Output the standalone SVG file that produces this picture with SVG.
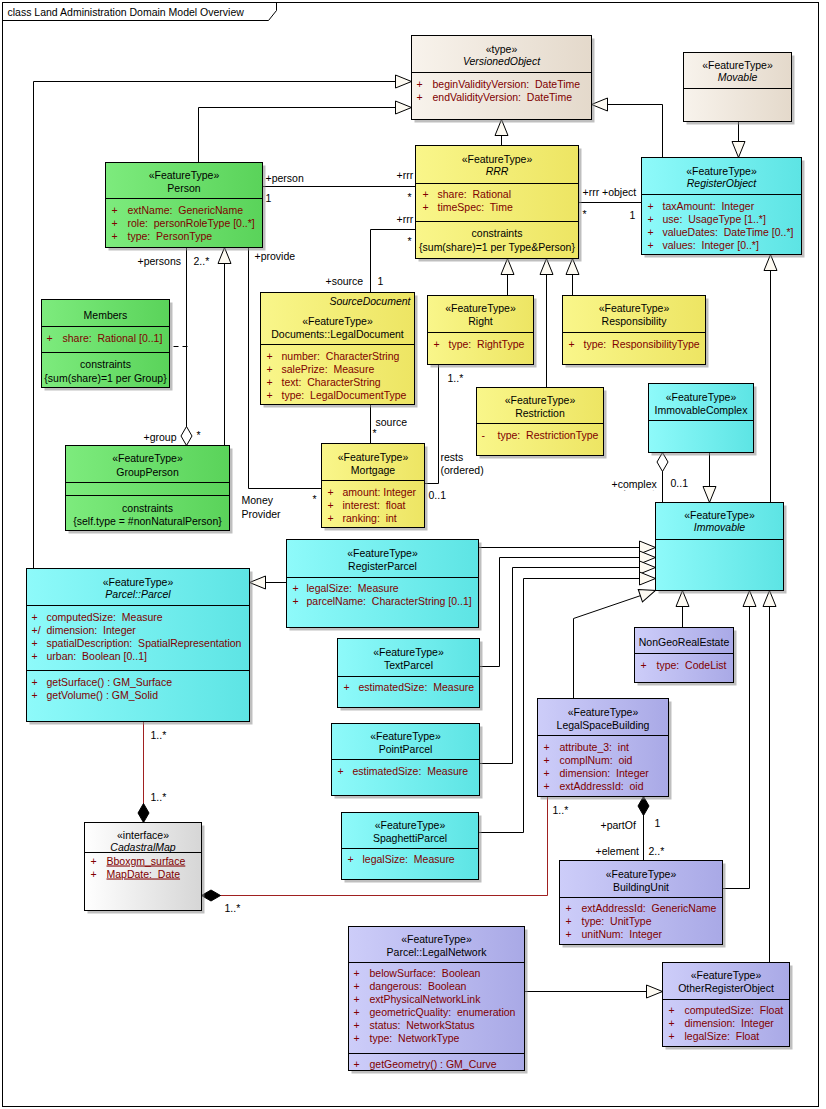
<svg xmlns="http://www.w3.org/2000/svg" width="826" height="1109" viewBox="0 0 826 1109" xml:space="preserve">
<style>
text{font-family:"Liberation Sans",Arial,sans-serif;font-size:10.5px;fill:#000;white-space:pre}
.c{text-anchor:middle}
.e{text-anchor:end}
.i{font-style:italic}
.a{fill:#800000}
.u{text-decoration:underline}
.sh{fill:#8a8a8a;opacity:.55}
.bx{stroke:#000;stroke-width:1}
.dv{stroke:#000;stroke-width:1}
.cn path{fill:none;stroke:#000;stroke-width:1}
.cn path.red{stroke:#A02020}
.cn path.dash{stroke-dasharray:5,4;stroke-dashoffset:5}
</style>
<defs>
<linearGradient id="gGreen" x1="0" y1="0" x2="1" y2="0"><stop offset="0" stop-color="#7DEB7D"/><stop offset="1" stop-color="#5AD35A"/></linearGradient>
<linearGradient id="gYellow" x1="0" y1="0" x2="1" y2="0"><stop offset="0" stop-color="#F9F68A"/><stop offset="1" stop-color="#EDE563"/></linearGradient>
<linearGradient id="gCyan" x1="0" y1="0" x2="1" y2="0"><stop offset="0" stop-color="#8EFAFA"/><stop offset="1" stop-color="#5DE4E4"/></linearGradient>
<linearGradient id="gLav" x1="0" y1="0" x2="1" y2="0"><stop offset="0" stop-color="#CDCDF9"/><stop offset="1" stop-color="#A9A9E6"/></linearGradient>
<linearGradient id="gBeige" x1="0" y1="0" x2="1" y2="0"><stop offset="0" stop-color="#F8F3EC"/><stop offset="1" stop-color="#E4D9CB"/></linearGradient>
<linearGradient id="gWhite" x1="0" y1="0" x2="1" y2="0"><stop offset="0" stop-color="#FFFFFF"/><stop offset="1" stop-color="#D6D6D6"/></linearGradient>
<marker id="gen" markerWidth="18" markerHeight="15" refX="16" refY="6.5" orient="auto" markerUnits="userSpaceOnUse" overflow="visible"><path d="M0,0 L16,6.5 L0,13 z" fill="#FDFAF2" stroke="#000" stroke-width="1"/></marker>
<marker id="agg" markerWidth="20" markerHeight="12" refX="19" refY="5.5" orient="auto" markerUnits="userSpaceOnUse" overflow="visible"><path d="M0,5.5 L9.5,0 L19,5.5 L9.5,11 z" fill="#FFFFFF" stroke="#000" stroke-width="1"/></marker>
<marker id="comp" markerWidth="20" markerHeight="12" refX="19" refY="5.5" orient="auto" markerUnits="userSpaceOnUse" overflow="visible"><path d="M0,5.5 L9.5,0 L19,5.5 L9.5,11 z" fill="#000" stroke="#000" stroke-width="1"/></marker>
<clipPath id="clipEl"><rect x="600" y="478" width="90" height="12"/></clipPath>
</defs>
<rect x="0" y="0" width="826" height="1109" fill="#FFFFFF"/>
<g transform="translate(.5,.5)">
<g id="frame">
<rect x="2" y="2" width="816" height="1104" fill="none" stroke="#000"/>
<path d="M2,20 H268 L276,10 V2" fill="none" stroke="#000"/>
<text x="7" y="15">class Land Administration Domain Model Overview</text>
</g>

<g id="connectors" class="cn">
<path d="M33,568 V81 H411" marker-end="url(#gen)"/>
<path d="M198,162 V107 H411" marker-end="url(#gen)"/>
<path d="M501,145 V119" marker-end="url(#gen)"/>
<path d="M662,157 V104 H591" marker-end="url(#gen)"/>
<path d="M738,121 V157" marker-end="url(#gen)"/>
<path d="M507,295 V258" marker-end="url(#gen)"/>
<path d="M546,387 V258" marker-end="url(#gen)"/>
<path d="M572,295 V258" marker-end="url(#gen)"/>
<path d="M770,502 V254" marker-end="url(#gen)"/>
<path d="M709,452 V502" marker-end="url(#gen)"/>
<path d="M224,445 V247" marker-end="url(#gen)"/>
<path d="M286,582 H249" marker-end="url(#gen)"/>
<path d="M478,547 H655" marker-end="url(#gen)"/>
<path d="M479,666 H499 V557 H655" marker-end="url(#gen)"/>
<path d="M479,763 H512 V567 H655" marker-end="url(#gen)"/>
<path d="M478,832 H523 V578 H655" marker-end="url(#gen)"/>
<path d="M573,698 V618 L655,590" marker-end="url(#gen)"/>
<path d="M682,627 V590" marker-end="url(#gen)"/>
<path d="M722,888 H749 V590" marker-end="url(#gen)"/>
<path d="M769,962 V590" marker-end="url(#gen)"/>
<path d="M524,991 H662" marker-end="url(#gen)"/>
<path d="M262,186 H415"/>
<path d="M415,229 H370 V292"/>
<path d="M578,202 H641"/>
<path d="M370,404 V443"/>
<path d="M438,364 V483 H424"/>
<path d="M248,247 V488 H321"/>
<path d="M186,247 V445" marker-end="url(#agg)"/>
<path class="dash" d="M169,346 H187"/>
<path d="M662,502 V452" marker-end="url(#agg)"/>
<path d="M643,860 V796" marker-end="url(#comp)"/>
<path class="red" d="M143,721 V822" marker-end="url(#comp)"/>
<path class="red" d="M547,796 V895 H201" marker-end="url(#comp)"/>
</g>

<g id="labels">
<text x="265" y="181">+person</text>
<text x="265" y="201">1</text>
<text x="396" y="178">+rrr</text>
<text x="407" y="200">*</text>
<text x="396" y="222">+rrr</text>
<text x="407" y="244">*</text>
<text x="325" y="284">+source</text>
<text x="377" y="284">1</text>
<text x="582" y="195">+rrr +object</text>
<text x="582" y="217">*</text>
<text x="629" y="218">1</text>
<text x="137" y="264">+persons</text>
<text x="193" y="264">2..*</text>
<text x="254" y="259">+provide</text>
<text x="143" y="440">+group</text>
<text x="196" y="438">*</text>
<text x="375" y="425">source</text>
<text x="372" y="436">*</text>
<text x="241" y="503">Money</text>
<text x="241" y="517">Provider</text>
<text x="312" y="502">*</text>
<text x="447" y="381">1..*</text>
<text x="440" y="460">rests</text>
<text x="440" y="473">(ordered)</text>
<text x="428" y="498">0..1</text>
<text x="611" y="487">+complex</text>
<text x="611" y="497" clip-path="url(#clipEl)">+element</text>
<text x="670" y="486">0..1</text>
<text x="600" y="828">+partOf</text>
<text x="654" y="826">1</text>
<text x="595" y="854">+element</text>
<text x="648" y="854">2..*</text>
<text x="552" y="813">1..*</text>
<text x="150" y="738">1..*</text>
<text x="150" y="800">1..*</text>
<text x="224" y="911">1..*</text>
</g>

<g id="n-versionedobject">
<rect class="sh" x="414" y="38" width="180" height="84"/>
<rect class="bx" x="411" y="35" width="180" height="84" fill="url(#gBeige)"/>
<line class="dv" x1="411" y1="72" x2="591" y2="72"/>
<text class="c" x="501" y="52">«type»</text>
<text class="c i" x="501" y="64">VersionedObject</text>
<text class="a" x="416" y="87">+</text><text class="a" x="432" y="87">beginValidityVersion:  DateTime</text>
<text class="a" x="416" y="100">+</text><text class="a" x="432" y="100">endValidityVersion:  DateTime</text>
</g>

<g id="n-movable">
<rect class="sh" x="686" y="55" width="108" height="69"/>
<rect class="bx" x="683" y="52" width="108" height="69" fill="url(#gBeige)"/>
<line class="dv" x1="683" y1="88" x2="791" y2="88"/>
<text class="c" x="737" y="68">«FeatureType»</text>
<text class="c i" x="737" y="80">Movable</text>
</g>

<g id="n-rrr">
<rect class="sh" x="418" y="148" width="163" height="113"/>
<rect class="bx" x="415" y="145" width="163" height="113" fill="url(#gYellow)"/>
<line class="dv" x1="415" y1="183" x2="578" y2="183"/>
<line class="dv" x1="415" y1="221" x2="578" y2="221"/>
<text class="c" x="496.5" y="162">«FeatureType»</text>
<text class="c i" x="496.5" y="174">RRR</text>
<text class="a" x="422" y="197">+</text><text class="a" x="437" y="197">share:  Rational</text>
<text class="a" x="422" y="210">+</text><text class="a" x="437" y="210">timeSpec:  Time</text>
<text class="c" x="496.5" y="236">constraints</text>
<text class="c" x="496.5" y="250">{sum(share)=1 per Type&amp;Person}</text>
</g>

<g id="n-registerobject">
<rect class="sh" x="644" y="160" width="160" height="97"/>
<rect class="bx" x="641" y="157" width="160" height="97" fill="url(#gCyan)"/>
<line class="dv" x1="641" y1="194" x2="801" y2="194"/>
<text class="c" x="721" y="174">«FeatureType»</text>
<text class="c i" x="721" y="186">RegisterObject</text>
<text class="a" x="647" y="209">+</text><text class="a" x="662" y="209">taxAmount:  Integer</text>
<text class="a" x="647" y="222">+</text><text class="a" x="662" y="222">use:  UsageType [1..*]</text>
<text class="a" x="647" y="235">+</text><text class="a" x="662" y="235">valueDates:  DateTime [0..*]</text>
<text class="a" x="647" y="248">+</text><text class="a" x="662" y="248">values:  Integer [0..*]</text>
</g>

<g id="n-person">
<rect class="sh" x="108" y="165" width="157" height="85"/>
<rect class="bx" x="105" y="162" width="157" height="85" fill="url(#gGreen)"/>
<line class="dv" x1="105" y1="198" x2="262" y2="198"/>
<text class="c" x="183.5" y="178">«FeatureType»</text>
<text class="c" x="183.5" y="191">Person</text>
<text class="a" x="111" y="213">+</text><text class="a" x="127" y="213">extName:  GenericName</text>
<text class="a" x="111" y="226">+</text><text class="a" x="127" y="226">role:  personRoleType [0..*]</text>
<text class="a" x="111" y="239">+</text><text class="a" x="127" y="239">type:  PersonType</text>
</g>

<g id="n-members">
<rect class="sh" x="44" y="302" width="128" height="88"/>
<rect class="bx" x="41" y="299" width="128" height="88" fill="url(#gGreen)"/>
<line class="dv" x1="41" y1="326" x2="169" y2="326"/>
<line class="dv" x1="41" y1="352" x2="169" y2="352"/>
<text class="c" x="105" y="318">Members</text>
<text class="a" x="46" y="341">+</text><text class="a" x="62" y="341">share:  Rational [0..1]</text>
<text class="c" x="105" y="367">constraints</text>
<text class="c" x="105" y="381">{sum(share)=1 per Group}</text>
</g>

<g id="n-groupperson">
<rect class="sh" x="68" y="448" width="164" height="85"/>
<rect class="bx" x="65" y="445" width="164" height="85" fill="url(#gGreen)"/>
<line class="dv" x1="65" y1="482" x2="229" y2="482"/>
<line class="dv" x1="65" y1="495" x2="229" y2="495"/>
<text class="c" x="147" y="461">«FeatureType»</text>
<text class="c" x="147" y="475">GroupPerson</text>
<text class="c" x="147" y="511">constraints</text>
<text class="c" x="147" y="524">{self.type = #nonNaturalPerson}</text>
</g>

<g id="n-legaldocument">
<rect class="sh" x="263" y="295" width="154" height="112"/>
<rect class="bx" x="260" y="292" width="154" height="112" fill="url(#gYellow)"/>
<line class="dv" x1="260" y1="344" x2="414" y2="344"/>
<text class="e i" x="410" y="304">SourceDocument</text>
<text class="c" x="337" y="324">«FeatureType»</text>
<text class="c" x="337" y="337">Documents::LegalDocument</text>
<text class="a" x="266" y="359">+</text><text class="a" x="281" y="359">number:  CharacterString</text>
<text class="a" x="266" y="372">+</text><text class="a" x="281" y="372">salePrize:  Measure</text>
<text class="a" x="266" y="385">+</text><text class="a" x="281" y="385">text:  CharacterString</text>
<text class="a" x="266" y="398">+</text><text class="a" x="281" y="398">type:  LegalDocumentType</text>
</g>

<g id="n-mortgage">
<rect class="sh" x="324" y="446" width="103" height="84"/>
<rect class="bx" x="321" y="443" width="103" height="84" fill="url(#gYellow)"/>
<line class="dv" x1="321" y1="480" x2="424" y2="480"/>
<text class="c" x="372.5" y="460">«FeatureType»</text>
<text class="c" x="372.5" y="473">Mortgage</text>
<text class="a" x="327" y="495">+</text><text class="a" x="342" y="495">amount: Integer</text>
<text class="a" x="327" y="508">+</text><text class="a" x="342" y="508">interest:  float</text>
<text class="a" x="327" y="521">+</text><text class="a" x="342" y="521">ranking:  int</text>
</g>

<g id="n-right">
<rect class="sh" x="430" y="298" width="106" height="69"/>
<rect class="bx" x="427" y="295" width="106" height="69" fill="url(#gYellow)"/>
<line class="dv" x1="427" y1="332" x2="533" y2="332"/>
<text class="c" x="480" y="311">«FeatureType»</text>
<text class="c" x="480" y="324">Right</text>
<text class="a" x="433" y="347">+</text><text class="a" x="448" y="347">type:  RightType</text>
</g>

<g id="n-responsibility">
<rect class="sh" x="565" y="298" width="143" height="69"/>
<rect class="bx" x="562" y="295" width="143" height="69" fill="url(#gYellow)"/>
<line class="dv" x1="562" y1="332" x2="705" y2="332"/>
<text class="c" x="633.5" y="311">«FeatureType»</text>
<text class="c" x="633.5" y="324">Responsibility</text>
<text class="a" x="568" y="347">+</text><text class="a" x="583" y="347">type:  ResponsibilityType</text>
</g>

<g id="n-restriction">
<rect class="sh" x="479" y="390" width="127" height="68"/>
<rect class="bx" x="476" y="387" width="127" height="68" fill="url(#gYellow)"/>
<line class="dv" x1="476" y1="423" x2="603" y2="423"/>
<text class="c" x="539.5" y="403">«FeatureType»</text>
<text class="c" x="539.5" y="416">Restriction</text>
<text class="a" x="481" y="438">-</text><text class="a" x="497" y="438">type:  RestrictionType</text>
</g>

<g id="n-immovablecomplex">
<rect class="sh" x="651" y="386" width="105" height="69"/>
<rect class="bx" x="648" y="383" width="105" height="69" fill="url(#gCyan)"/>
<line class="dv" x1="648" y1="420" x2="753" y2="420"/>
<text class="c" x="700.5" y="400">«FeatureType»</text>
<text class="c" x="700.5" y="413">ImmovableComplex</text>
</g>

<g id="n-immovable">
<rect class="sh" x="658" y="505" width="128" height="88"/>
<rect class="bx" x="655" y="502" width="128" height="88" fill="url(#gCyan)"/>
<line class="dv" x1="655" y1="539" x2="783" y2="539"/>
<text class="c" x="719" y="518">«FeatureType»</text>
<text class="c i" x="719" y="530">Immovable</text>
</g>

<g id="n-parcel">
<rect class="sh" x="29" y="571" width="223" height="153"/>
<rect class="bx" x="26" y="568" width="223" height="153" fill="url(#gCyan)"/>
<line class="dv" x1="26" y1="605" x2="249" y2="605"/>
<line class="dv" x1="26" y1="670" x2="249" y2="670"/>
<text class="c" x="137.5" y="585">«FeatureType»</text>
<text class="c i" x="137.5" y="597">Parcel::Parcel</text>
<text class="a" x="31" y="620">+</text><text class="a" x="46" y="620">computedSize:  Measure</text>
<text class="a" x="31" y="633">+/</text><text class="a" x="46" y="633">dimension:  Integer</text>
<text class="a" x="31" y="646">+</text><text class="a" x="46" y="646">spatialDescription:  SpatialRepresentation</text>
<text class="a" x="31" y="659">+</text><text class="a" x="46" y="659">urban:  Boolean [0..1]</text>
<text class="a" x="31" y="685">+</text><text class="a" x="46" y="685">getSurface() : GM_Surface</text>
<text class="a" x="31" y="698">+</text><text class="a" x="46" y="698">getVolume() : GM_Solid</text>
</g>

<g id="n-registerparcel">
<rect class="sh" x="289" y="542" width="192" height="88"/>
<rect class="bx" x="286" y="539" width="192" height="88" fill="url(#gCyan)"/>
<line class="dv" x1="286" y1="577" x2="478" y2="577"/>
<text class="c" x="382" y="556">«FeatureType»</text>
<text class="c" x="382" y="569">RegisterParcel</text>
<text class="a" x="292" y="591">+</text><text class="a" x="306" y="591">legalSize:  Measure</text>
<text class="a" x="292" y="604">+</text><text class="a" x="306" y="604">parcelName:  CharacterString [0..1]</text>
</g>

<g id="n-textparcel">
<rect class="sh" x="340" y="641" width="142" height="69"/>
<rect class="bx" x="337" y="638" width="142" height="69" fill="url(#gCyan)"/>
<line class="dv" x1="337" y1="676" x2="479" y2="676"/>
<text class="c" x="408" y="655">«FeatureType»</text>
<text class="c" x="408" y="668">TextParcel</text>
<text class="a" x="343" y="690">+</text><text class="a" x="358" y="690">estimatedSize:  Measure</text>
</g>

<g id="n-pointparcel">
<rect class="sh" x="334" y="726" width="148" height="72"/>
<rect class="bx" x="331" y="723" width="148" height="72" fill="url(#gCyan)"/>
<line class="dv" x1="331" y1="759" x2="479" y2="759"/>
<text class="c" x="405" y="739">«FeatureType»</text>
<text class="c" x="405" y="752">PointParcel</text>
<text class="a" x="337" y="774">+</text><text class="a" x="352" y="774">estimatedSize:  Measure</text>
</g>

<g id="n-spaghettiparcel">
<rect class="sh" x="344" y="815" width="137" height="67"/>
<rect class="bx" x="341" y="812" width="137" height="67" fill="url(#gCyan)"/>
<line class="dv" x1="341" y1="848" x2="478" y2="848"/>
<text class="c" x="409.5" y="828">«FeatureType»</text>
<text class="c" x="409.5" y="841">SpaghettiParcel</text>
<text class="a" x="347" y="862">+</text><text class="a" x="362" y="862">legalSize:  Measure</text>
</g>

<g id="n-nongeorealestate">
<rect class="sh" x="637" y="630" width="99" height="55"/>
<rect class="bx" x="634" y="627" width="99" height="55" fill="url(#gLav)"/>
<line class="dv" x1="634" y1="653" x2="733" y2="653"/>
<text class="c" x="683.5" y="645">NonGeoRealEstate</text>
<text class="a" x="640" y="668">+</text><text class="a" x="656" y="668">type:  CodeList</text>
</g>

<g id="n-legalspacebuilding">
<rect class="sh" x="540" y="701" width="131" height="98"/>
<rect class="bx" x="537" y="698" width="131" height="98" fill="url(#gLav)"/>
<line class="dv" x1="537" y1="735" x2="668" y2="735"/>
<text class="c" x="602.5" y="715">«FeatureType»</text>
<text class="c" x="602.5" y="728">LegalSpaceBuilding</text>
<text class="a" x="543" y="750">+</text><text class="a" x="559" y="750">attribute_3:  int</text>
<text class="a" x="543" y="763">+</text><text class="a" x="559" y="763">complNum:  oid</text>
<text class="a" x="543" y="776">+</text><text class="a" x="559" y="776">dimension:  Integer</text>
<text class="a" x="543" y="789">+</text><text class="a" x="559" y="789">extAddressId:  oid</text>
</g>

<g id="n-cadastralmap">
<rect class="sh" x="87" y="825" width="117" height="88"/>
<rect class="bx" x="84" y="822" width="117" height="88" fill="url(#gWhite)"/>
<line class="dv" x1="84" y1="852" x2="201" y2="852"/>
<text class="c" x="142.5" y="838">«interface»</text>
<text class="c i" x="142.5" y="850">CadastralMap</text>
<text class="a" x="90" y="864">+</text><text class="a u" x="106" y="864">Bboxgm_surface</text>
<text class="a" x="90" y="877">+</text><text class="a u" x="106" y="877">MapDate:  Date</text>
</g>

<g id="n-buildingunit">
<rect class="sh" x="562" y="863" width="163" height="84"/>
<rect class="bx" x="559" y="860" width="163" height="84" fill="url(#gLav)"/>
<line class="dv" x1="559" y1="897" x2="722" y2="897"/>
<text class="c" x="640.5" y="877">«FeatureType»</text>
<text class="c" x="640.5" y="890">BuildingUnit</text>
<text class="a" x="565" y="911">+</text><text class="a" x="581" y="911">extAddressId:  GenericName</text>
<text class="a" x="565" y="924">+</text><text class="a" x="581" y="924">type:  UnitType</text>
<text class="a" x="565" y="937">+</text><text class="a" x="581" y="937">unitNum:  Integer</text>
</g>

<g id="n-legalnetwork">
<rect class="sh" x="351" y="929" width="176" height="144"/>
<rect class="bx" x="348" y="926" width="176" height="144" fill="url(#gLav)"/>
<line class="dv" x1="348" y1="962" x2="524" y2="962"/>
<line class="dv" x1="348" y1="1053" x2="524" y2="1053"/>
<text class="c" x="436" y="942">«FeatureType»</text>
<text class="c" x="436" y="955">Parcel::LegalNetwork</text>
<text class="a" x="353" y="976">+</text><text class="a" x="369" y="976">belowSurface:  Boolean</text>
<text class="a" x="353" y="989">+</text><text class="a" x="369" y="989">dangerous:  Boolean</text>
<text class="a" x="353" y="1002">+</text><text class="a" x="369" y="1002">extPhysicalNetworkLink</text>
<text class="a" x="353" y="1015">+</text><text class="a" x="369" y="1015">geometricQuality:  enumeration</text>
<text class="a" x="353" y="1028">+</text><text class="a" x="369" y="1028">status:  NetworkStatus</text>
<text class="a" x="353" y="1041">+</text><text class="a" x="369" y="1041">type:  NetworkType</text>
<text class="a" x="353" y="1067">+</text><text class="a" x="369" y="1067">getGeometry() : GM_Curve</text>
</g>

<g id="n-otherregisterobject">
<rect class="sh" x="665" y="965" width="127" height="84"/>
<rect class="bx" x="662" y="962" width="127" height="84" fill="url(#gLav)"/>
<line class="dv" x1="662" y1="999" x2="789" y2="999"/>
<text class="c" x="725.5" y="978">«FeatureType»</text>
<text class="c" x="725.5" y="991">OtherRegisterObject</text>
<text class="a" x="668" y="1013">+</text><text class="a" x="684" y="1013">computedSize:  Float</text>
<text class="a" x="668" y="1026">+</text><text class="a" x="684" y="1026">dimension:  Integer</text>
<text class="a" x="668" y="1039">+</text><text class="a" x="684" y="1039">legalSize:  Float</text>
</g>
</g>
</svg>
